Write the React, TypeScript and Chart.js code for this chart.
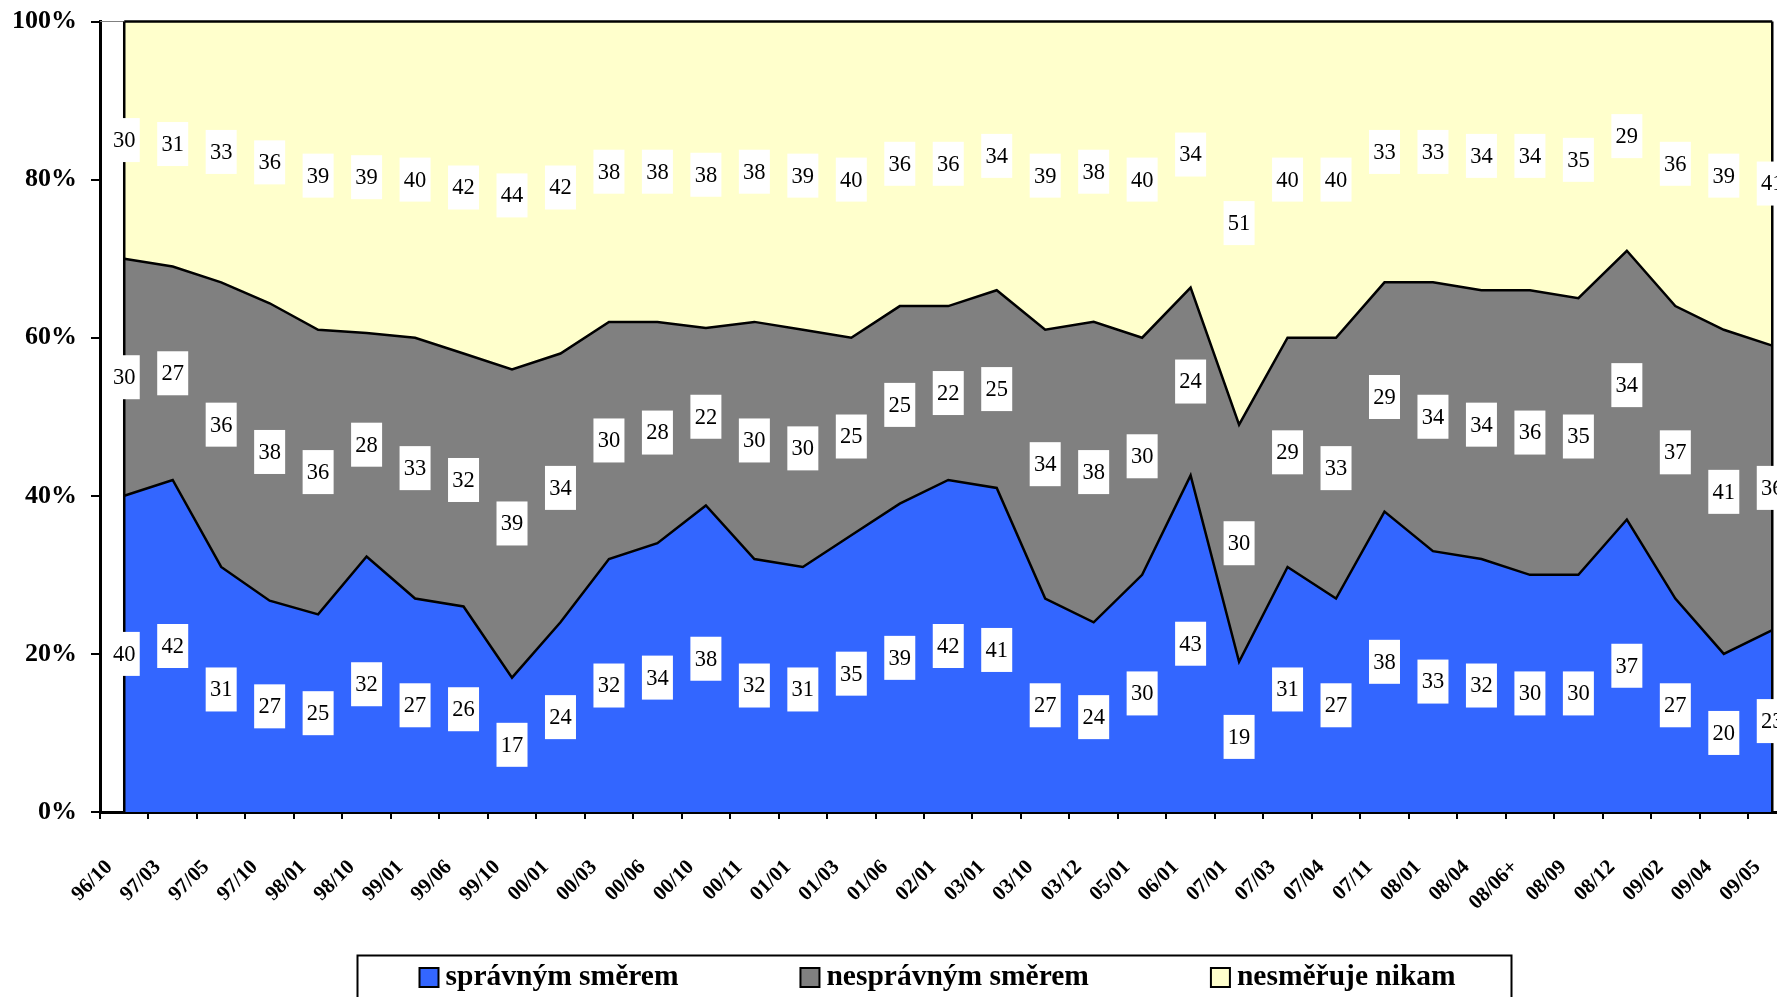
import { useEffect, useRef } from "react";
import { Chart, registerables } from "chart.js";

Chart.register(...registerables);

const categories = [
  "96/10", "97/03", "97/05", "97/10", "98/01", "98/10", "99/01", "99/06", "99/10",
  "00/01", "00/03", "00/06", "00/10", "00/11", "01/01", "01/03", "01/06", "02/01",
  "03/01", "03/10", "03/12", "05/01", "06/01", "07/01", "07/03", "07/04", "07/11",
  "08/01", "08/04", "08/06+", "08/09", "08/12", "09/02", "09/04", "09/05",
];

const spravnymSmerem = [
  40, 42, 31, 27, 25, 32, 27, 26, 17, 24, 32, 34, 38, 32, 31, 35, 39, 42,
  41, 27, 24, 30, 43, 19, 31, 27, 38, 33, 32, 30, 30, 37, 27, 20, 23,
];

const nespravnymSmerem = [
  30, 27, 36, 38, 36, 28, 33, 32, 39, 34, 30, 28, 22, 30, 30, 25, 25, 22,
  25, 34, 38, 30, 24, 30, 29, 33, 29, 34, 34, 36, 35, 34, 37, 41, 36,
];

const nesmerujeNikam = [
  30, 31, 33, 36, 39, 39, 40, 42, 44, 42, 38, 38, 38, 38, 39, 40, 36, 36,
  34, 39, 38, 40, 34, 51, 40, 40, 33, 33, 34, 34, 35, 29, 36, 39, 41,
];

const seriesLabels = ["správným směrem", "nesprávným směrem", "nesměřuje nikam"];
const seriesColors = ["#3366FF", "#808080", "#FFFFCC"];
const yTickValues = [0, 20, 40, 60, 80, 100];

const W = 1830;
const H = 1012;
const SERIF = "'Liberation Serif', 'Times New Roman', serif";

export default function App() {
  const ref = useRef<HTMLCanvasElement | null>(null);

  useEffect(() => {
    const canvas = ref.current;
    if (!canvas) return;

    const raw = [spravnymSmerem, nespravnymSmerem, nesmerujeNikam];
    const totals = categories.map((_, i) => raw[0][i] + raw[1][i] + raw[2][i]);
    // 100% stacked cumulative boundaries
    const cum: number[][] = [];
    raw.forEach((series, s) => {
      cum.push(
        series.map((v, i) => {
          const prev = s === 0 ? 0 : (cum[s - 1][i] * totals[i]) / 100;
          return ((prev + v) / totals[i]) * 100;
        })
      );
    });

    const edgesAndLabels = {
      id: "edgesAndLabels",
      afterDatasetsDraw(chart: any) {
        const { ctx, scales, chartArea } = chart;
        const xs = scales.x;
        const ys = scales.y;
        ctx.save();
        // plot area top border left of the first point
        ctx.strokeStyle = "#808080";
        ctx.lineWidth = 1;
        ctx.beginPath();
        ctx.moveTo(chartArea.left, chartArea.top);
        ctx.lineTo(xs.getPixelForValue(0), chartArea.top);
        ctx.stroke();
        // vertical edges of the area polygons
        ctx.strokeStyle = "#000";
        ctx.lineWidth = 2.5;
        [0, categories.length - 1].forEach((i) => {
          const x = xs.getPixelForValue(i);
          ctx.beginPath();
          ctx.moveTo(x, ys.getPixelForValue(0));
          ctx.lineTo(x, ys.getPixelForValue(100));
          ctx.stroke();
        });
        // data labels
        ctx.font = `22.5px ${SERIF}`;
        ctx.textAlign = "center";
        ctx.textBaseline = "middle";
        raw.forEach((series, s) => {
          series.forEach((v, i) => {
            const lo = s === 0 ? 0 : cum[s - 1][i];
            const hi = cum[s][i];
            const x = xs.getPixelForValue(i);
            const y = ys.getPixelForValue((lo + hi) / 2);
            const bw = 31;
            const bh = 44;
            ctx.fillStyle = "#fff";
            ctx.fillRect(x - bw / 2, y - bh / 2, bw, bh);
            ctx.fillStyle = "#000";
            ctx.fillText(String(v), x, y + 1);
          });
        });
        ctx.restore();
      },
    };

    const legendBox = {
      id: "legendBox",
      afterDraw(chart: any) {
        const { ctx } = chart;
        const boxL = 357.5;
        const boxR = 1511.5;
        const boxT = 955.5;
        const boxB = 1008;
        ctx.save();
        ctx.fillStyle = "#fff";
        ctx.fillRect(boxL, boxT, boxR - boxL, boxB - boxT);
        ctx.strokeStyle = "#000";
        ctx.lineWidth = 2;
        ctx.strokeRect(boxL, boxT, boxR - boxL, boxB - boxT);
        ctx.font = `bold 29.5px ${SERIF}`;
        ctx.textAlign = "left";
        ctx.textBaseline = "alphabetic";
        const sq = 19;
        const gapText = 7;
        const itemGap = 122;
        let x = 419.5;
        seriesLabels.forEach((label, i) => {
          ctx.fillStyle = seriesColors[i];
          ctx.fillRect(x, 968, sq, sq);
          ctx.strokeStyle = "#000";
          ctx.lineWidth = 2;
          ctx.strokeRect(x, 968, sq, sq);
          ctx.fillStyle = "#000";
          const tx = x + sq + gapText;
          ctx.fillText(label, tx, 985);
          x = tx + ctx.measureText(label).width + itemGap;
        });
        ctx.restore();
      },
    };

    const chart = new Chart(canvas, {
      type: "line",
      data: {
        labels: categories,
        datasets: cum.map((data, s) => ({
          label: seriesLabels[s],
          data,
          fill: s === 0 ? "origin" : "-1",
          backgroundColor: seriesColors[s],
          borderColor: "#000",
          borderWidth: 2.5,
          pointRadius: 0,
          pointHoverRadius: 0,
          tension: 0,
          clip: 6,
        })),
      },
      options: {
        animation: false,
        responsive: false,
        devicePixelRatio: 1,
        events: [],
        layout: { padding: { top: 21.5, right: W - 1796.5, bottom: 0, left: 0 } },
        plugins: {
          legend: { display: false },
          tooltip: { enabled: false },
        },
        scales: {
          x: {
            type: "category",
            offset: true,
            z: 1,
            grid: {
              offset: true,
              drawOnChartArea: false,
              drawTicks: true,
              tickLength: 7,
              color: "#000",
              lineWidth: 2,
            },
            border: { display: true, color: "#000", width: 3 },
            ticks: {
              autoSkip: false,
              minRotation: 45,
              maxRotation: 45,
              padding: 36,
              labelOffset: -15,
              color: "#000",
              font: { family: SERIF, size: 21, weight: "bold" },
            },
            afterFit: (s: any) => {
              s.height = H - 812;
              s.paddingLeft = 0;
              s.paddingRight = 0;
            },
          },
          y: {
            min: 0,
            max: 100,
            z: 1,
            afterBuildTicks: (s: any) => {
              s.ticks = yTickValues.map((v) => ({ value: v }));
            },
            ticks: {
              padding: 14,
              color: "#000",
              font: { family: SERIF, size: 26, weight: "bold" },
              callback: (v: any) => `${v}%`,
            },
            grid: {
              drawOnChartArea: false,
              drawTicks: true,
              tickLength: 9,
              color: "#000",
              lineWidth: 2,
            },
            border: { display: true, color: "#000", width: 3 },
            afterFit: (s: any) => {
              s.width = 100;
              s.paddingTop = 0;
              s.paddingBottom = 0;
            },
          },
        },
      },
      plugins: [edgesAndLabels, legendBox],
    });

    return () => {
      chart.destroy();
    };
  }, []);

  return (
    <div
      style={{
        position: "fixed",
        left: 0,
        top: 0,
        width: "100vw",
        height: "100vh",
        overflow: "hidden",
        background: "#fff",
      }}
    >
      <canvas
        ref={ref}
        width={W}
        height={H}
        style={{ position: "absolute", left: 0, top: 0, width: W, height: H }}
      />
    </div>
  );
}
